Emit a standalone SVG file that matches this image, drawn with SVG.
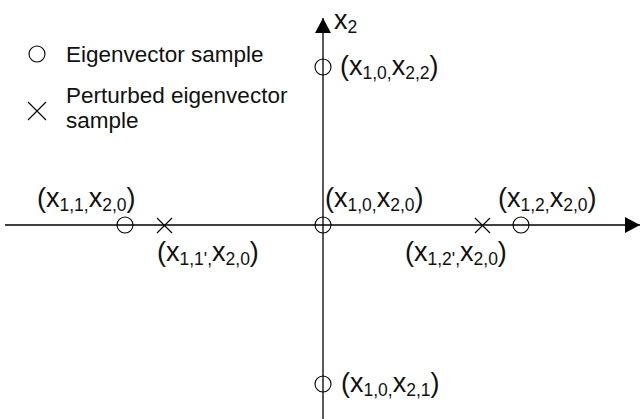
<svg xmlns="http://www.w3.org/2000/svg" width="640" height="419" viewBox="0 0 640 419">
<style>
.ax{stroke:#000;stroke-width:1.3;fill:none}
.c{stroke:#000;stroke-width:1.1;fill:none}
.lbl{font-family:"Liberation Sans",Arial,sans-serif;font-size:27px;fill:#111}
.sub{font-size:17.5px}
.leg{font-family:"Liberation Sans",Arial,sans-serif;font-size:22.5px;fill:#111}
</style>
<defs>
<marker id="ah" viewBox="0 0 15 16" refX="15" refY="8" markerWidth="15" markerHeight="16" markerUnits="userSpaceOnUse" orient="auto">
<path d="M0,0 L15,8 L0,16 Z" fill="#000"/>
</marker>
</defs>
<g id="connectors">
<line class="ax" x1="5" y1="225" x2="640" y2="225" marker-end="url(#ah)"/>
<line class="ax" x1="323" y1="419" x2="323" y2="18" marker-end="url(#ah)"/>
</g>
<g id="axis-label">
<text class="lbl" x="334" y="29">x<tspan class="sub" dy="4">2</tspan></text>
</g>
<g id="legend">
<circle class="c" cx="37" cy="54" r="8"/>
<text class="leg" x="66" y="62">Eigenvector sample</text>
<path class="c" d="M28,102 L46,120 M46,102 L28,120"/>
<text class="leg" x="66" y="103">Perturbed eigenvector</text>
<text class="leg" x="66" y="128">sample</text>
</g>
<g id="p-top">
<circle class="c" cx="323" cy="67" r="8"/>
<text class="lbl" x="340" y="75">(x<tspan class="sub" dy="4">1,0,</tspan><tspan dy="-4">x</tspan><tspan class="sub" dy="4">2,2</tspan><tspan dy="-4">)</tspan></text>
</g>
<g id="p-left">
<circle class="c" cx="125" cy="225" r="8"/>
<text class="lbl" x="37" y="207">(x<tspan class="sub" dy="4">1,1,</tspan><tspan dy="-4">x</tspan><tspan class="sub" dy="4">2,0</tspan><tspan dy="-4">)</tspan></text>
</g>
<g id="p-left-pert">
<path class="c" d="M157,218 L172,233 M172,218 L157,233"/>
<text class="lbl" x="157" y="261">(x<tspan class="sub" dy="4">1,1',</tspan><tspan dy="-4">x</tspan><tspan class="sub" dy="4">2,0</tspan><tspan dy="-4">)</tspan></text>
</g>
<g id="p-origin">
<circle class="c" cx="323" cy="225" r="8"/>
<text class="lbl" x="325" y="207">(x<tspan class="sub" dy="4">1,0,</tspan><tspan dy="-4">x</tspan><tspan class="sub" dy="4">2,0</tspan><tspan dy="-4">)</tspan></text>
</g>
<g id="p-right-pert">
<path class="c" d="M475,218 L490,233 M490,218 L475,233"/>
<text class="lbl" x="405" y="261">(x<tspan class="sub" dy="4">1,2',</tspan><tspan dy="-4">x</tspan><tspan class="sub" dy="4">2,0</tspan><tspan dy="-4">)</tspan></text>
</g>
<g id="p-right">
<circle class="c" cx="521" cy="225" r="8"/>
<text class="lbl" x="498" y="207">(x<tspan class="sub" dy="4">1,2,</tspan><tspan dy="-4">x</tspan><tspan class="sub" dy="4">2,0</tspan><tspan dy="-4">)</tspan></text>
</g>
<g id="p-bottom">
<circle class="c" cx="323" cy="384" r="8"/>
<text class="lbl" x="341" y="392">(x<tspan class="sub" dy="4">1,0,</tspan><tspan dy="-4">x</tspan><tspan class="sub" dy="4">2,1</tspan><tspan dy="-4">)</tspan></text>
</g>
</svg>
